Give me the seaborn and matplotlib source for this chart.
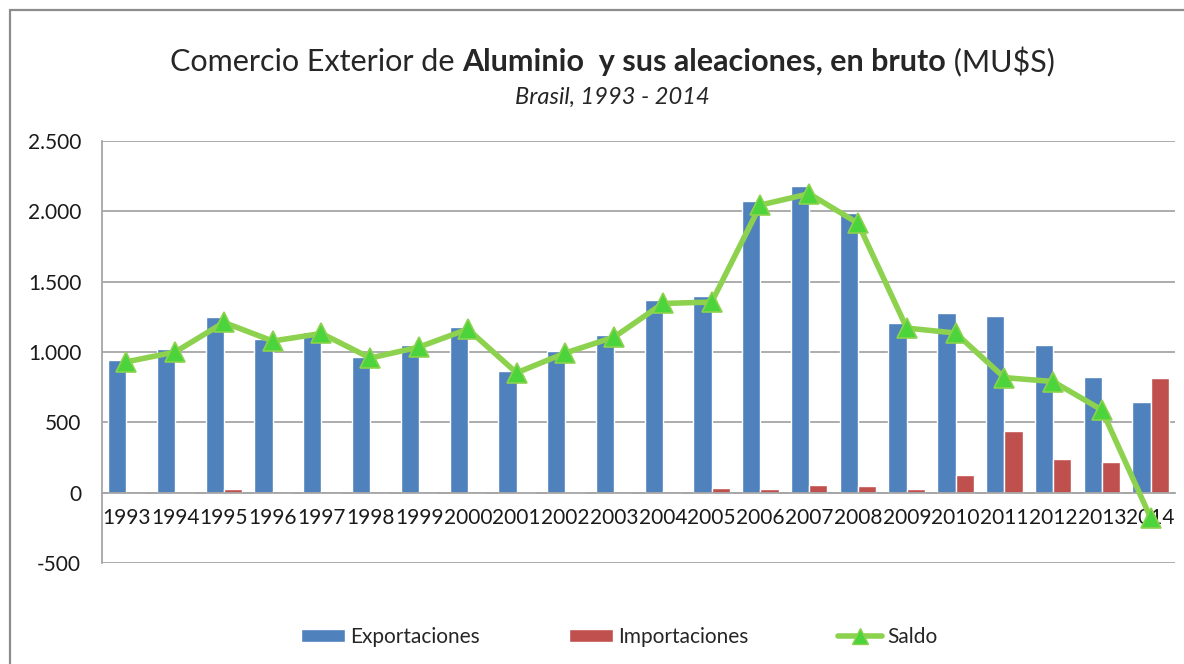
import numpy as np
import pandas as pd
import matplotlib.pyplot as plt
import seaborn as sns
from matplotlib.patches import Patch
from matplotlib.lines import Line2D

years = [str(y) for y in range(1993, 2015)]
exportaciones = [945, 1020, 1250, 1095, 1140, 965, 1048, 1175, 865, 1005, 1118,
                 1372, 1395, 2075, 2182, 1985, 1205, 1275, 1255, 1048, 822, 645]
importaciones = [0, 10, 28, 10, 9, 0, 0, 0, 8, 8, 0,
                 15, 35, 28, 57, 50, 25, 128, 435, 240, 220, 815]
saldo = [930, 1000, 1210, 1078, 1132, 957, 1035, 1163, 852, 993, 1106,
         1345, 1355, 2045, 2125, 1915, 1170, 1135, 818, 790, 588, -178]
yticks = [-500, 0, 500, 1000, 1500, 2000, 2500]

sns.set_style('white')
plt.rcParams['font.family'] = ['Lato', 'DejaVu Sans']

df = pd.DataFrame({
    'year': years * 2,
    'valor': exportaciones + importaciones,
    'serie': ['Exportaciones'] * len(years) + ['Importaciones'] * len(years),
})

fig = plt.figure(figsize=(11.84, 6.64), dpi=100)
W, H = 1184, 664
ax = fig.add_axes([102 / W, 1 - 563 / H, (1175 - 102) / W, (563 - 141) / H])

blue, red = '#4F81BD', '#C0504D'
line_green, mk_green = '#8DD24E', '#4CD43C'
sns.barplot(data=df, x='year', y='valor', hue='serie', palette=[blue, red],
            width=0.75, saturation=1, ax=ax, legend=False, zorder=2)
sns.lineplot(x=np.arange(len(years)), y=saldo, color=line_green, linewidth=4,
             marker='^', markersize=15, markerfacecolor=mk_green,
             markeredgecolor=line_green, markeredgewidth=1.2, ax=ax, zorder=5,
             clip_on=False)

ax.set_xlim(-0.5, len(years) - 0.5)
ax.set_ylim(-500, 2500)
ax.set_yticks(yticks)
ax.set_yticklabels([f'{v:,}'.replace(',', '.') for v in yticks])
ax.grid(axis='y', color='#A6A6A6', linewidth=1.3, zorder=0)
ax.set_axisbelow(True)
for s in ['top', 'right']:
    ax.spines[s].set_visible(False)
ax.spines['left'].set_color('#A6A6A6')
ax.spines['left'].set_linewidth(1.3)
ax.spines['bottom'].set_position(('data', 0))
ax.spines['bottom'].set_color('#A6A6A6')
ax.spines['bottom'].set_linewidth(1.3)
ax.tick_params(axis='x', length=0, pad=11, labelsize=15, colors='#1a1a1a')
ax.tick_params(axis='y', length=0, pad=15, labelsize=15, colors='#1a1a1a')
ax.set_xlabel('')
ax.set_ylabel('')

# border of the chart area (top and left only, the rest is cropped)
fig.add_artist(Line2D([10 / W, 1], [1 - 10 / H, 1 - 10 / H], transform=fig.transFigure,
                      color='#8C8C8C', linewidth=1.6))
fig.add_artist(Line2D([10 / W, 10 / W], [0, 1 - 10 / H], transform=fig.transFigure,
                      color='#8C8C8C', linewidth=1.6))

# title with mixed weight
parts = [('Comercio Exterior de ', 'normal'),
         ('Aluminio  y sus aleaciones, en bruto', 'bold'),
         (' (MU$S)', 'normal')]
renderer = fig.canvas.get_renderer()
texts = []
for s, w in parts:
    t = fig.text(0, 1 - 62 / H, s, fontsize=22, fontweight=w, va='center', ha='left')
    texts.append(t)
widths = [t.get_window_extent(renderer).width for t in texts]
x0 = 612 - sum(widths) / 2
for t, w in zip(texts, widths):
    t.set_x(x0 / W)
    x0 += w
fig.text(612 / W, 1 - 97 / H, 'Brasil, 1993 - 2014', fontsize=17,
         style='italic', ha='center', va='center')

handles = [Patch(facecolor=blue), Patch(facecolor=red),
           Line2D([], [], color=line_green, linewidth=4, marker='^', markersize=12,
                  markerfacecolor=mk_green, markeredgecolor=line_green)]
fig.legend(handles, ['Exportaciones', 'Importaciones', 'Saldo'],
           loc='center', bbox_to_anchor=(619 / W, 1 - 637 / H), ncol=3,
           frameon=False, fontsize=15, handlelength=2.1, handleheight=0.6,
           handletextpad=0.25, columnspacing=4.3)

fig.savefig('out.png', dpi=100)
